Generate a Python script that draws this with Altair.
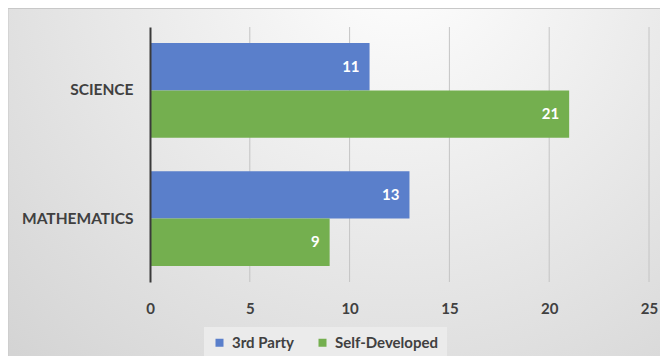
import altair as alt
import pandas as pd

categories = ["SCIENCE", "MATHEMATICS"]
series = ["3rd Party", "Self-Developed"]
third_party = [11, 13]
self_developed = [21, 9]
tick_values = [0, 5, 10, 15, 20, 25]
colors = ["#5A7FCB", "#74AF4F"]

rows = []
for i, c in enumerate(categories):
    rows.append({"category": c, "series": series[0], "value": third_party[i]})
    rows.append({"category": c, "series": series[1], "value": self_developed[i]})
df = pd.DataFrame(rows)

W, H = 499, 255
PL, PT = 142, 19
PR, PB = 652 - PL - W, 348 - PT - H
FONT = "Lato"

bg = alt.Chart(pd.DataFrame({"a": [0]})).mark_rect(
    fill=alt.RadialGradient(
        gradient="radial",
        x1=0.6, y1=0.15, x2=0.6, y2=0.15, r1=0, r2=0.85,
        stops=[alt.GradientStop(offset=0, color="#ffffff"),
               alt.GradientStop(offset=1, color="#d4d4d4")],
    ),
    stroke="#c8c8c8", strokeWidth=1,
).encode(
    x=alt.value(-PL), x2=alt.value(W + PR + 2),
    y=alt.value(-PT + 0.5), y2=alt.value(H + PB + 2),
)

yscale = alt.Scale(domain=categories, paddingInner=0.26, paddingOuter=0.125)
xscale = alt.Scale(domain=[0, 25])

grid = alt.Chart(pd.DataFrame({"t": tick_values[1:]})).mark_rule(
    color="#c4c4c4", strokeWidth=1
).encode(x=alt.X("t:Q", scale=xscale), y=alt.value(0), y2=alt.value(H))

base = alt.Chart(df)

bars = base.mark_bar().encode(
    x=alt.X("value:Q", scale=xscale,
            axis=alt.Axis(values=tick_values, title=None, grid=False,
                          ticks=False, domain=False, labelPadding=19,
                          labelFlush=False, labelFont=FONT, labelFontSize=15,
                          labelFontWeight="bold", labelColor="#404040",
                          zindex=1)),
    y=alt.Y("category:N", scale=yscale, sort=categories,
            axis=alt.Axis(title=None, ticks=False, domain=True,
                          domainColor="#3a3a3a", domainWidth=2,
                          labelPadding=17, labelFont=FONT, labelFontSize=15.5,
                          labelFontWeight="bold", labelColor="#404040",
                          zindex=1)),
    yOffset=alt.YOffset("series:N", sort=series,
                        scale=alt.Scale(domain=series, paddingInner=0)),
    color=alt.Color("series:N", scale=alt.Scale(domain=series, range=colors),
                    legend=alt.Legend(
                        title=None, orient="none", direction="horizontal",
                        legendX=54, legendY=300, fillColor="#ebebeb",
                        padding=8, symbolType="square", symbolSize=64,
                        symbolStrokeWidth=0, labelFont=FONT, labelFontSize=15,
                        labelFontWeight="bold", labelColor="#404040",
                        columnPadding=20, labelOffset=5, zindex=1)),
)

labels = base.mark_text(
    align="right", dx=-10, color="white", font=FONT, fontSize=15,
    fontWeight="bold",
).encode(
    x=alt.X("value:Q", scale=xscale),
    y=alt.Y("category:N", scale=yscale, sort=categories),
    yOffset=alt.YOffset("series:N", sort=series,
                        scale=alt.Scale(domain=series, paddingInner=0)),
    text="value:Q",
)

chart = alt.layer(bg, grid, bars, labels).properties(
    width=W, height=H,
    autosize=alt.AutoSizeParams(type="none"),
    padding={"left": PL, "top": PT, "right": PR, "bottom": PB},
    background="#e4e4e4",
).configure_view(stroke=None)

chart.save("out.html", embed_options={"renderer": "svg", "actions": False})
